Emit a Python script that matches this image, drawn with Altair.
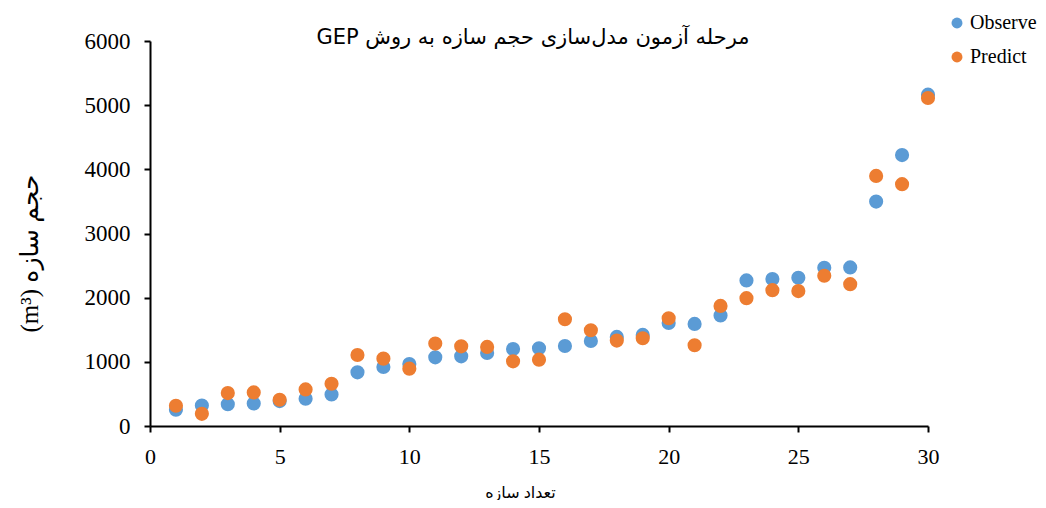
import altair as alt
import pandas as pd

# Data
x_idx = list(range(1, 31))
observe = [253, 320, 340, 352, 388, 425, 492, 836, 919, 966,
           1070, 1086, 1138, 1200, 1210, 1247, 1325, 1388, 1419, 1606,
           1591, 1722, 2269, 2289, 2310, 2466, 2472, 3497, 4222, 5164]
predict = [315, 190, 513, 523, 409, 570, 659, 1106, 1050, 894,
           1284, 1242, 1232, 1008, 1034, 1664, 1492, 1331, 1367, 1680,
           1258, 1872, 1992, 2117, 2102, 2341, 2211, 3898, 3769, 5112]
series_names = ["Observe", "Predict"]
series_colors = ["#5B9BD5", "#ED7D31"]
x_ticks = [0, 5, 10, 15, 20, 25, 30]
y_ticks = [0, 1000, 2000, 3000, 4000, 5000, 6000]

RLE, PDF = "\u202B", "\u202C"
title_text = RLE + "مرحله آزمون مدل‌سازی حجم سازه به روش GEP" + PDF
y_title = RLE + "حجم سازه (m³)" + PDF
x_title = "تعداد سازه"

rows = []
for name, vals in zip(series_names, [observe, predict]):
    for i, v in zip(x_idx, vals):
        rows.append({"n": i, "value": v, "series": name})
df = pd.DataFrame(rows)
df["order"] = df["series"].map({"Observe": 0, "Predict": 1})

serif = "Liberation Serif, DejaVu Sans"

chart = alt.Chart(df).mark_circle(size=200, opacity=1).encode(
    x=alt.X("n:Q",
            scale=alt.Scale(domain=[0, 30], nice=False, zero=True),
            axis=alt.Axis(values=x_ticks, title=x_title, format="d",
                          labelFlush=False,
                          titleFont=serif, titleFontSize=16,
                          titleFontWeight="normal", titleX=370, titleY=66,
                          titleBaseline="middle", titleAlign="center",
                          labelFont=serif, labelFontSize=22,
                          labelPadding=14)),
    y=alt.Y("value:Q",
            scale=alt.Scale(domain=[0, 6000], nice=False),
            axis=alt.Axis(values=y_ticks, title=y_title, format="d",
                          labelFlush=False,
                          titleFont=serif, titleFontSize=25,
                          titleFontWeight="normal", titleX=-121, titleY=212,
                          titleBaseline="middle", titleAlign="center",
                          titleAngle=270,
                          labelFont=serif, labelFontSize=23,
                          labelPadding=14)),
    color=alt.Color("series:N",
                    scale=alt.Scale(domain=series_names, range=series_colors),
                    legend=alt.Legend(title=None, orient="none",
                                      legendX=797, legendY=-28,
                                      symbolType="circle", symbolSize=120,
                                      symbolStrokeWidth=0,
                                      labelFont=serif, labelFontSize=20,
                                      labelOffset=3, rowPadding=14,
                                      labelColor="black")),
    order=alt.Order("order:Q"),
).properties(
    width=778,
    height=385,
    title=alt.TitleParams(title_text,
                          font="DejaVu Sans", fontSize=21, fontWeight="normal",
                          anchor="middle", frame="group", offset=0,
                          baseline="middle", dx=-6, dy=46, color="black"),
    autosize=alt.AutoSizeParams(type="none"),
    padding={"left": 142, "top": 33, "right": 110, "bottom": 74},
).configure_view(
    stroke=None
).configure_axis(
    grid=False,
    domainColor="black",
    domainWidth=2,
    tickColor="black",
    tickWidth=2,
    tickSize=6,
    labelColor="black",
    titleColor="black",
)

chart.save("out.html", embed_options={"renderer": "svg", "actions": False})
